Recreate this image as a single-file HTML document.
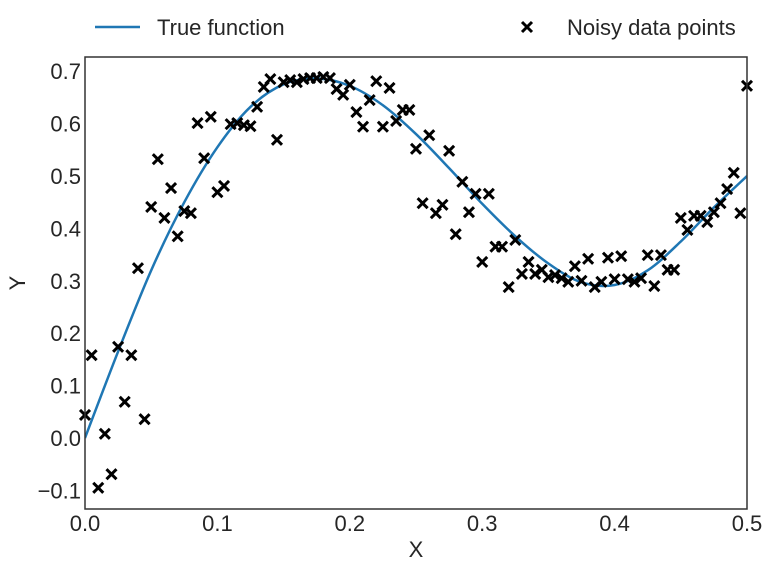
<!DOCTYPE html>
<html><head><meta charset="utf-8"><style>
body{margin:0;background:#fff;}
svg text{font-family:"Liberation Sans",sans-serif;fill:#262626;}
</style></head><body>
<svg id="chart" width="772" height="571">
<g>
<line x1="95" y1="27" x2="140" y2="27" stroke="#1f77b4" stroke-width="2.5"/>
<text x="157" y="35" font-size="22">True function</text>
<path d="M522,22 L532,32 M532,22 L522,32" stroke="#000" stroke-width="3"/>
<text x="567" y="35" font-size="22">Noisy data points</text>
</g>
<g id="plot"></g>
<text x="416" y="557" font-size="22" text-anchor="middle">X</text>
<text x="25" y="283" font-size="22" text-anchor="middle" transform="rotate(-90 25 283)">Y</text>
</svg>
<script>
const noisyY=[0.044,0.158,-0.095,0.008,-0.069,0.174,0.069,0.158,0.324,0.036,0.441,0.532,0.420,0.477,0.385,0.433,0.429,0.601,0.534,0.613,0.469,0.481,0.599,0.601,0.597,0.595,0.632,0.670,0.685,0.569,0.679,0.683,0.679,0.685,0.687,0.687,0.689,0.687,0.666,0.655,0.674,0.622,0.594,0.645,0.681,0.594,0.668,0.605,0.626,0.626,0.552,0.448,0.578,0.429,0.445,0.548,0.389,0.489,0.431,0.466,0.336,0.466,0.365,0.365,0.288,0.378,0.313,0.336,0.313,0.321,0.307,0.311,0.305,0.298,0.328,0.300,0.342,0.288,0.298,0.344,0.303,0.347,0.303,0.298,0.305,0.349,0.290,0.349,0.321,0.321,0.420,0.397,0.424,0.424,0.412,0.431,0.448,0.475,0.506,0.429,0.672];
const noisyXStep=0.005;
const trueX=[0,0.025,0.05,0.075,0.1,0.125,0.15,0.175,0.2,0.225,0.25,0.275,0.3,0.325,0.35,0.375,0.4,0.425,0.45,0.475,0.5];
const trueY=[0,0.165,0.32,0.45,0.555,0.632,0.675,0.686,0.672,0.635,0.58,0.515,0.447,0.385,0.333,0.297,0.292,0.32,0.375,0.44,0.5];
const xTicks=[0,0.1,0.2,0.3,0.4,0.5];
const xTickLabels=["0.0","0.1","0.2","0.3","0.4","0.5"];
const yTicks=[-0.1,0,0.1,0.2,0.3,0.4,0.5,0.6,0.7];
const yTickLabels=["\u22120.1","0.0","0.1","0.2","0.3","0.4","0.5","0.6","0.7"];

const L=85,R=747,T=57,B=509;
const sx=v=>L+(v-0)/0.5*(R-L);
const sy=v=>438-v*524;
const NS="http://www.w3.org/2000/svg";
const g=document.getElementById('plot');
function mk(t,a){const e=document.createElementNS(NS,t);for(const k in a)e.setAttribute(k,a[k]);g.appendChild(e);return e;}
const cp=mk('clipPath',{id:'clip'});g.removeChild(cp);
const cr=document.createElementNS(NS,'rect');cr.setAttribute('x',L);cr.setAttribute('y',T);cr.setAttribute('width',R-L);cr.setAttribute('height',B-T);cp.appendChild(cr);
const defs=document.createElementNS(NS,'defs');defs.appendChild(cp);g.appendChild(defs);
const P=trueX.map((x,i)=>[sx(x),sy(trueY[i])]);
let d=`M${P[0][0]},${P[0][1]}`;
for(let i=0;i<P.length-1;i++){const p0=P[Math.max(0,i-1)],p1=P[i],p2=P[i+1],p3=P[Math.min(P.length-1,i+2)];
d+=` C${p1[0]+(p2[0]-p0[0])/6},${p1[1]+(p2[1]-p0[1])/6} ${p2[0]-(p3[0]-p1[0])/6},${p2[1]-(p3[1]-p1[1])/6} ${p2[0]},${p2[1]}`;}
const line=mk('path',{d:d,fill:'none',stroke:'#1f77b4','stroke-width':2.5,'clip-path':'url(#clip)'});


noisyY.forEach((y,i)=>{const cx=sx(i*noisyXStep),cy=sy(y);
const m=mk('path',{d:`M${cx-5},${cy-5}L${cx+5},${cy+5}M${cx+5},${cy-5}L${cx-5},${cy+5}`,stroke:'#000','stroke-width':3});

});
const fr=mk('rect',{x:L,y:T,width:R-L,height:B-T,fill:'none',stroke:'#333','stroke-width':1.5});


xTicks.forEach((v,i)=>{const t=mk('text',{x:sx(v),y:531,'font-size':22,'text-anchor':'middle'});t.textContent=xTickLabels[i];

});
yTicks.forEach((v,i)=>{const t=mk('text',{x:81,y:sy(v)+8,'font-size':22,'text-anchor':'end'});t.textContent=yTickLabels[i];

});
</script>
</body></html>
